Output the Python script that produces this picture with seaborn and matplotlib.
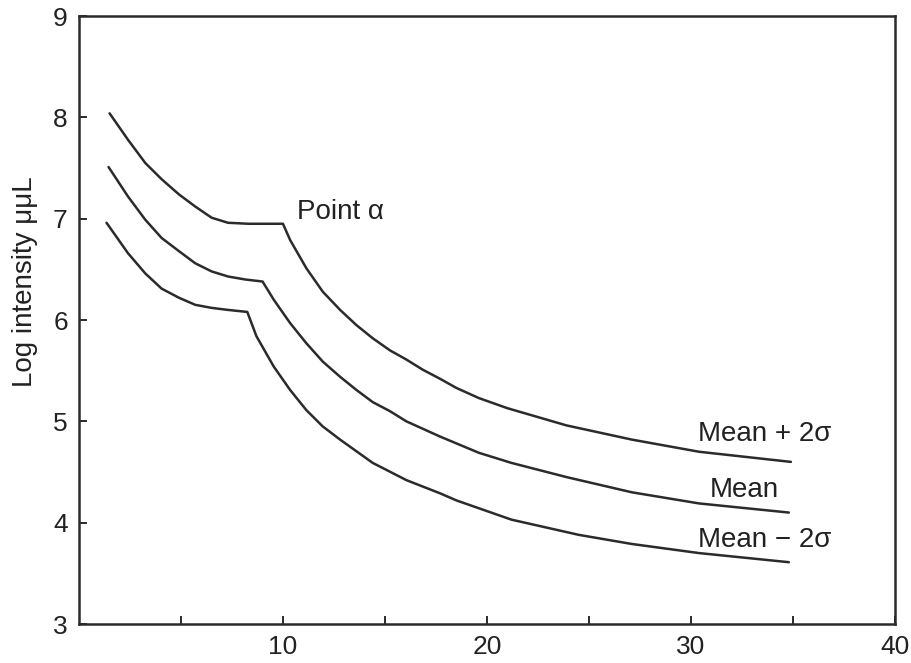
import matplotlib
matplotlib.use("Agg")
import matplotlib.pyplot as plt
import seaborn as sns
import pandas as pd

# Mean + 2 sigma curve
upper_x = [1.5, 2.4, 3.25, 4.05, 4.9, 5.7, 6.5, 7.3, 8.3, 10.0, 10.35, 11.15, 11.95, 12.8,
           13.6, 14.4, 15.25, 16.05, 16.85, 17.7, 18.5, 19.6, 21.0, 23.9, 27.1, 30.4, 34.9]
upper_y = [8.04, 7.78, 7.55, 7.39, 7.24, 7.12, 7.01, 6.96, 6.95, 6.95, 6.79, 6.51, 6.28, 6.10,
           5.95, 5.82, 5.70, 5.61, 5.51, 5.42, 5.33, 5.23, 5.13, 4.96, 4.82, 4.70, 4.60]

# Mean curve
mean_x = [1.45, 2.4, 3.25, 4.05, 4.9, 5.7, 6.5, 7.3, 8.15, 9.0, 9.55, 10.35, 11.15, 11.95,
          12.8, 13.6, 14.4, 15.25, 16.05, 17.7, 19.6, 21.2, 23.9, 27.1, 30.4, 34.8]
mean_y = [7.51, 7.22, 6.99, 6.81, 6.68, 6.56, 6.48, 6.43, 6.40, 6.38, 6.20, 5.97, 5.77, 5.59,
          5.44, 5.31, 5.19, 5.10, 5.00, 4.85, 4.69, 4.59, 4.45, 4.30, 4.19, 4.10]

# Mean - 2 sigma curve
lower_x = [1.35, 2.4, 3.25, 4.05, 4.9, 5.7, 6.5, 7.3, 8.25, 8.7, 9.55, 10.35, 11.15, 11.95,
           12.8, 14.4, 16.05, 17.7, 18.5, 21.2, 24.5, 27.1, 30.4, 34.8]
lower_y = [6.96, 6.66, 6.46, 6.31, 6.22, 6.15, 6.12, 6.10, 6.08, 5.84, 5.54, 5.31, 5.11, 4.95,
           4.82, 4.59, 4.42, 4.29, 4.22, 4.03, 3.88, 3.79, 3.70, 3.61]

series_names = ["Mean + 2σ", "Mean", "Mean − 2σ"]

x_ticks = [5, 10, 15, 20, 25, 30, 35, 40]
x_ticklabels = ["", "10", "", "20", "", "30", "", "40"]
y_ticks = [3, 4, 5, 6, 7, 8, 9]
y_ticklabels = ["3", "4", "5", "6", "7", "8", "9"]

df = pd.concat([
    pd.DataFrame({"x": upper_x, "y": upper_y, "series": series_names[0]}),
    pd.DataFrame({"x": mean_x, "y": mean_y, "series": series_names[1]}),
    pd.DataFrame({"x": lower_x, "y": lower_y, "series": series_names[2]}),
], ignore_index=True)

sns.set_theme(style="ticks")
plt.rcParams["font.family"] = ["Liberation Sans", "DejaVu Sans"]

fig = plt.figure(figsize=(9.12, 6.63), dpi=100)
ax = fig.add_axes([0.0866, 0.0588, 0.8947, 0.9170])

ink = "#2b2b2b"
for name in series_names:
    sub = df[df["series"] == name]
    sns.lineplot(data=sub, x="x", y="y", ax=ax, color=ink, linewidth=1.8,
                 estimator=None, sort=False, legend=False)

ax.set_xlim(0, 40)
ax.set_ylim(3, 9)
ax.set_xticks(x_ticks)
ax.set_xticklabels(x_ticklabels)
ax.set_yticks(y_ticks)
ax.set_yticklabels(y_ticklabels)
ax.tick_params(direction="in", length=6, width=1.4, labelsize=19, pad=8,
               colors=ink, labelcolor="#222222")
ax.set_xlabel("")
ax.set_ylabel("Log intensity μμL", fontsize=20, color="#222222")
ax.yaxis.set_label_coords(-0.050, 0.5625)
for s in ax.spines.values():
    s.set_visible(True)
    s.set_linewidth(1.8)
    s.set_color(ink)

txt_kw = dict(fontsize=20, color="#222222")
ax.text(10.68, 7.07, "Point α", ha="left", va="center", **txt_kw)
ax.text(33.6, 4.88, series_names[0], ha="center", va="center", **txt_kw)
ax.text(32.64, 4.32, series_names[1], ha="center", va="center", **txt_kw)
ax.text(33.6, 3.83, series_names[2], ha="center", va="center", **txt_kw)

fig.savefig("out.png", dpi=100, facecolor="white")
